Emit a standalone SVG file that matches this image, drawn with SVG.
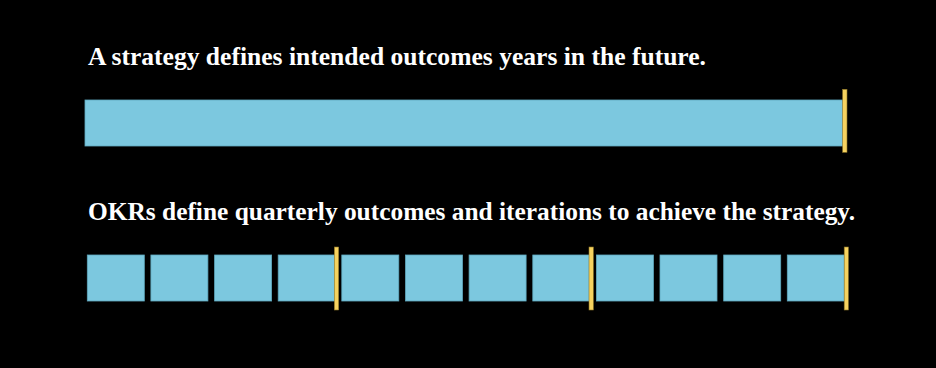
<svg xmlns="http://www.w3.org/2000/svg" width="936" height="368" viewBox="0 0 936 368">
<style>
.t{font-family:"Liberation Serif","DejaVu Serif",serif;font-weight:bold;font-size:26px;fill:#ffffff}
.b{fill:#7CC8DF;stroke:#5FA9BE;stroke-width:0.8}
.y{fill:#F6D25F;stroke:#8A7326;stroke-width:0.6}
</style>
<rect width="936" height="368" fill="#000000"/>
<text class="t" x="88" y="65" textLength="618" lengthAdjust="spacingAndGlyphs">A strategy defines intended outcomes years in the future.</text>
<text class="t" x="88" y="220" textLength="767" lengthAdjust="spacingAndGlyphs">OKRs define quarterly outcomes and iterations to achieve the strategy.</text>
<g id="strategy">
<rect class="b" x="85" y="100" width="759" height="46"/>
<rect class="y" x="842.6" y="89.3" width="4.4" height="63"/>
</g>
<g id="quarters">
<rect class="b" x="87.3" y="255" width="57" height="46"/>
<rect class="b" x="150.9" y="255" width="57" height="46"/>
<rect class="b" x="214.6" y="255" width="57" height="46"/>
<rect class="b" x="278.2" y="255" width="57" height="46"/>
<rect class="b" x="341.8" y="255" width="57" height="46"/>
<rect class="b" x="405.5" y="255" width="57" height="46"/>
<rect class="b" x="469.1" y="255" width="57" height="46"/>
<rect class="b" x="532.8" y="255" width="57" height="46"/>
<rect class="b" x="596.4" y="255" width="57" height="46"/>
<rect class="b" x="660.0" y="255" width="57" height="46"/>
<rect class="b" x="723.7" y="255" width="57" height="46"/>
<rect class="b" x="787.3" y="255" width="57" height="46"/>
</g>
<g id="year-markers">
<rect class="y" x="334.3" y="247" width="4.4" height="63"/>
<rect class="y" x="589" y="247" width="4.4" height="63"/>
<rect class="y" x="844.2" y="247" width="4.2" height="63"/>
</g>
</svg>
